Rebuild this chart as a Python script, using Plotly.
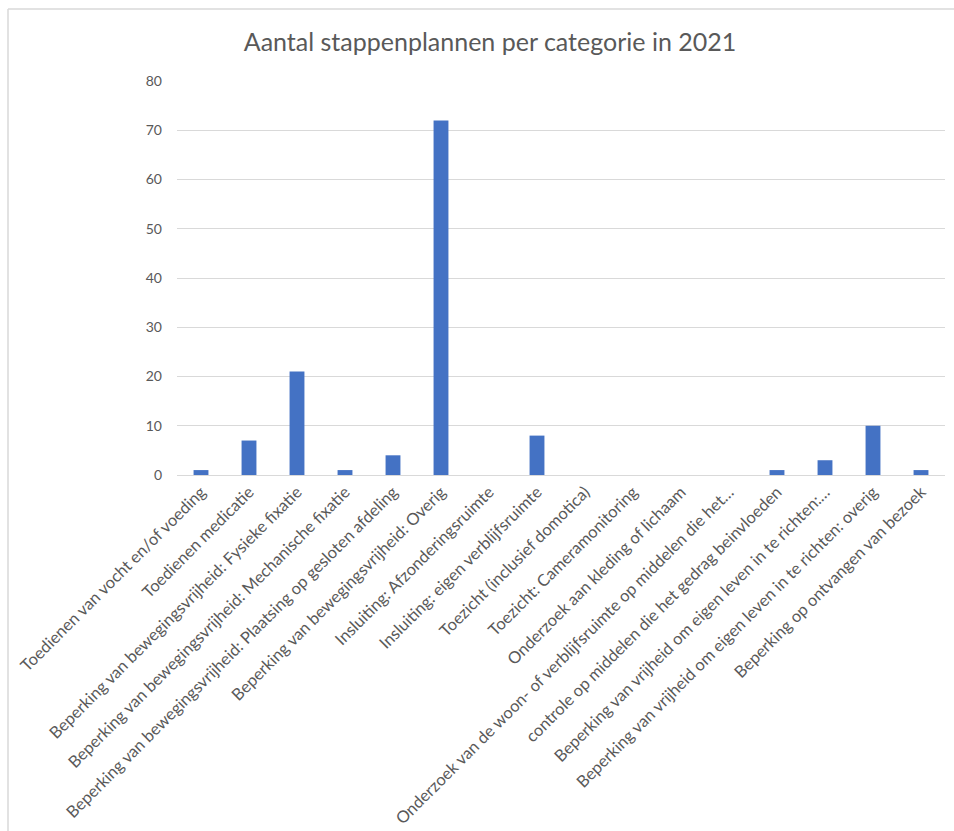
import plotly.graph_objects as go

categories = [
    "Toedienen van vocht en/of voeding",
    "Toedienen medicatie",
    "Beperking van bewegingsvrijheid: Fysieke fixatie",
    "Beperking van bewegingsvrijheid: Mechanische fixatie",
    "Beperking van bewegingsvrijheid: Plaatsing op gesloten afdeling",
    "Beperking van bewegingsvrijheid: Overig",
    "Insluiting: Afzonderingsruimte",
    "Insluiting: eigen verblijfsruimte",
    "Toezicht (inclusief domotica)",
    "Toezicht: Cameramonitoring",
    "Onderzoek aan kleding of lichaam",
    "Onderzoek van de woon- of verblijfsruimte op middelen die het…",
    "controle op middelen die het gedrag beinvloeden",
    "Beperking van vrijheid om eigen leven in te richten:…",
    "Beperking van vrijheid om eigen leven in te richten: overig",
    "Beperking op ontvangen van bezoek",
]
values = [1, 7, 21, 1, 4, 72, 0, 8, 0, 0, 0, 0, 1, 3, 10, 1]
y_ticks = [0, 10, 20, 30, 40, 50, 60, 70, 80]
title_text = "Aantal stappenplannen per categorie in 2021"

W, H = 954, 831
L, R, T, B = 177, 9, 81, 356
pw = W - L - R
ph = H - T - B

def px(x):
    return (x - L) / pw

def py(y):
    return (H - B - y) / ph

fig = go.Figure(go.Bar(
    x=categories, y=values,
    marker=dict(color="#4472C4", line=dict(width=0)),
    width=0.31,
))

gray = "#595959"
fig.update_layout(
    width=W, height=H,
    margin=dict(l=L, r=R, t=T, b=B),
    paper_bgcolor="white", plot_bgcolor="white",
    font=dict(family="Lato, Carlito, sans-serif", color=gray),
    showlegend=False,
    title=dict(text=title_text, x=px(490), xref="paper", xanchor="center",
               y=1 - 42 / H, yanchor="middle",
               font=dict(size=25, color=gray, family="Lato, sans-serif")),
    xaxis=dict(
        tickangle=-45, tickfont=dict(size=16.5, color=gray),
        showgrid=False, showline=True, linecolor="#d9d9d9", linewidth=1,
        ticks="", range=[-0.5, len(categories) - 0.5], automargin=False,
    ),
    yaxis=dict(
        range=[0, 80], tickvals=y_ticks, tickfont=dict(size=14, color=gray),
        showgrid=True, gridcolor="#d9d9d9", gridwidth=1,
        zeroline=False, showline=False, ticks="", ticklabelstandoff=14,
        automargin=False,
    ),
    shapes=[
        dict(type="line", xref="paper", yref="paper",
             x0=px(8), x1=px(W), y0=py(9), y1=py(9),
             line=dict(color="#d9d9d9", width=1.5)),
        dict(type="line", xref="paper", yref="paper",
             x0=px(8), x1=px(8), y0=py(9), y1=py(H),
             line=dict(color="#d9d9d9", width=1.5)),
    ],
)

fig.write_html("out.html")
